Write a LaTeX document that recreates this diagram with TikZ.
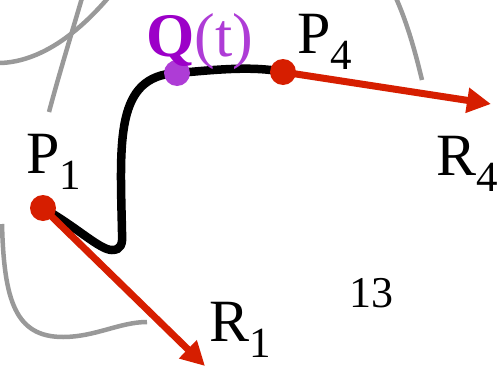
\documentclass[tikz,border=0pt]{standalone}
\usepackage{fontspec}
\setmainfont{Liberation Serif}
\usetikzlibrary{arrows.meta}
\definecolor{curvegray}{HTML}{999999}
\definecolor{tanred}{HTML}{D61E00}
\definecolor{qpurple}{HTML}{9C00C8}
\definecolor{qlight}{HTML}{AE3CD6}
\newcommand{\lbl}[2]{#1\raisebox{-16pt}{\fontsize{43}{43}\selectfont #2}}

\begin{document}
\begin{tikzpicture}[x=1pt, y=-1pt,
  bg/.style={curvegray, line width=4.5pt},
  bez/.style={black, line width=8.5pt},
  tangent/.style={tanred, line width=7pt, -{Triangle[length=24pt,width=24pt]}},
  ctrl/.style={circle, fill=tanred, inner sep=0pt, minimum size=26pt},
  txt/.style={inner sep=0pt, anchor=base west, font=\fontsize{60}{60}\selectfont}
]
  \useasboundingbox (0,0) rectangle (498,367);

  % other curves behind
  \draw[bg] (0,63) .. controls (35,62) and (72,40) .. (108,-2);
  \draw[bg] (49,112) .. controls (58,78) and (72,32) .. (82,-2);
  \draw[bg] (396,-2) .. controls (408,25) and (416,55) .. (422,80);
  \draw[bg] (2,224) .. controls (4,300) and (15,337) .. (63,337) .. controls (95,337) and (120,322) .. (147,322);

  \coordinate (P1) at (43,208);
  \coordinate (P4) at (283,72);
  \coordinate (Q) at (177,73);
  \coordinate (R1end) at (205,366);
  \coordinate (R4end) at (491,104);

  \draw[bez] (P1) .. controls (78,228) and (100,250) .. (112,250)
    .. controls (121,250) and (123,244) .. (122,232)
    .. controls (120,140) and (115,76) .. (Q)
    .. controls (205,71) and (250,65) .. (P4);

  \draw[tangent] (P1) -- (R1end);
  \draw[tangent] (P4) -- (R4end);

  \node[ctrl] (dP1) at (P1) {};
  \node[ctrl] (dP4) at (P4) {};
  \node[circle, fill=qlight, inner sep=0pt, minimum size=26pt] (dQ) at (Q) {};

  \node[txt] (lP1) at (26,173) {\lbl{P}{1}};
  \node[txt] (lP4) at (297,53) {\lbl{P}{4}};
  \node[txt] (lR4) at (436,175) {\lbl{R}{4}};
  \node[txt] (lR1) at (209,341) {\lbl{R}{1}};
  \node[txt, font=\fontsize{44}{44}\selectfont] (num) at (349,307) {13};
  \node[txt, font=\fontsize{62}{62}\selectfont] (lQ) at (146,56)
    {\textcolor{qpurple}{\textbf{Q}}\textcolor{qlight}{(t)}};
\end{tikzpicture}
\end{document}
